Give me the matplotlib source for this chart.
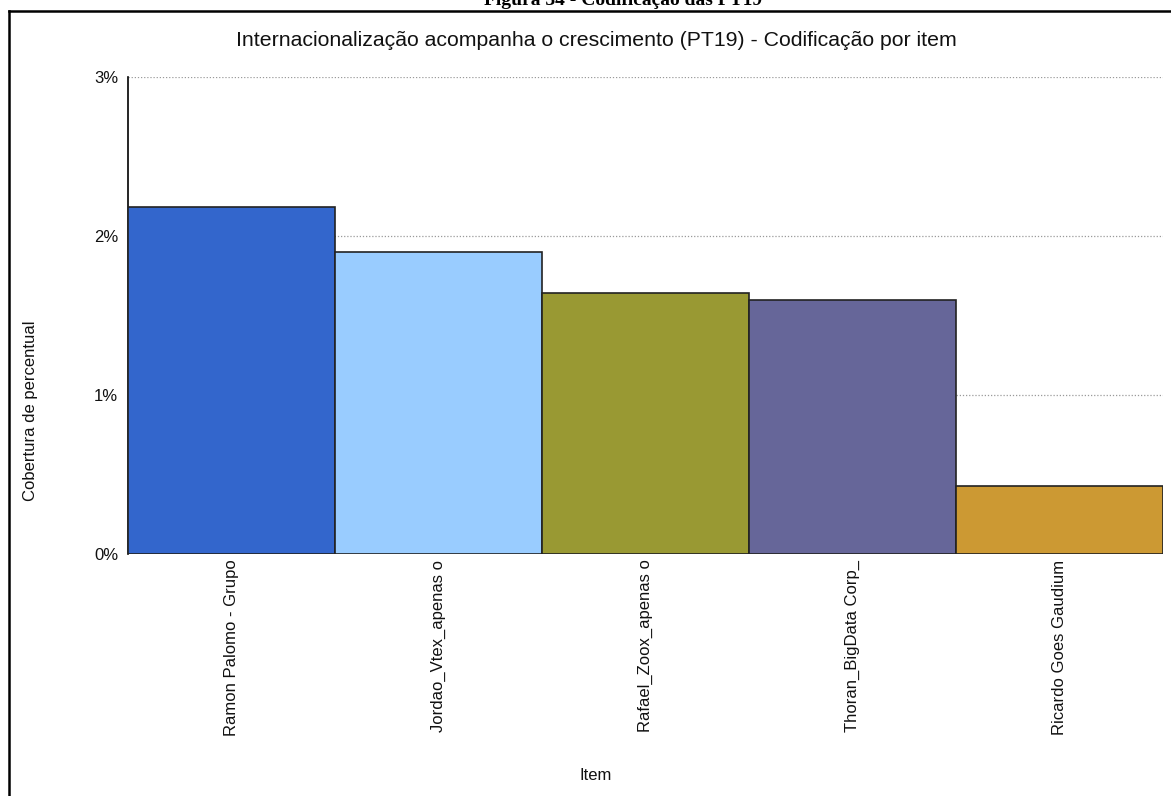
import matplotlib
matplotlib.use("Agg")
import matplotlib.pyplot as plt
from matplotlib.lines import Line2D
from matplotlib.ticker import FuncFormatter

plt.rcParams['font.family'] = ['Liberation Sans', 'DejaVu Sans']

# Data
items = ["Ramon Palomo - Grupo", "Jordao_Vtex_apenas o", "Rafael_Zoox_apenas o",
         "Thoran_BigData Corp_", "Ricardo Goes Gaudium"]
coverage = [2.18, 1.90, 1.64, 1.60, 0.43]
colors = ["#3366CC", "#99CCFF", "#999933", "#666699", "#CC9933"]
yticks = [0, 1, 2, 3]

W, H = 1171, 796
fig = plt.figure(figsize=(W / 100, H / 100), dpi=100)

# Document caption (partly cut off at the top edge)
fig.text(623 / W, 1 - 5 / H, "Figura 34 - Codificação das PT19",
         family=['Liberation Serif', 'DejaVu Serif'], fontweight='bold',
         fontsize=14, ha='center', va='baseline')

# Outer frame
fig.add_artist(Line2D([8.5 / W, 8.5 / W], [0, 1 - 11 / H], transform=fig.transFigure,
                      color='black', lw=1.8))
fig.add_artist(Line2D([8.5 / W, 1], [1 - 11 / H, 1 - 11 / H], transform=fig.transFigure,
                      color='black', lw=1.8))

ax = fig.add_axes([128 / W, 1 - 554 / H, (1163 - 128) / W, (554 - 77) / H])
x = list(range(len(items)))
ax.bar(x, coverage, width=1.0, color=colors, edgecolor='#222222', linewidth=1.2, zorder=3)
ax.set_xlim(-0.5, len(items) - 0.5)
ax.set_ylim(0, 3)
ax.set_yticks(yticks)
ax.yaxis.set_major_formatter(FuncFormatter(lambda v, p: f"{v:.0f}%"))
ax.yaxis.grid(True, linestyle=(0, (1, 1.5)), color='#9a9a9a', linewidth=0.9, zorder=0)
ax.set_axisbelow(True)
ax.set_xticks(x)
ax.set_xticklabels(items, rotation=90, fontsize=12, color='#111111')
ax.tick_params(axis='both', length=0, labelsize=12, labelcolor='#111111')
ax.tick_params(axis='x', pad=4)
ax.tick_params(axis='y', pad=7)
for s in ['top', 'right', 'bottom']:
    ax.spines[s].set_visible(False)
ax.spines['left'].set_color('black')
ax.spines['left'].set_linewidth(1.2)

fig.text(596 / W, 1 - 40 / H,
         "Internacionalização acompanha o crescimento (PT19) - Codificação por item",
         fontsize=15.3, ha='center', va='center', color='#111111')
fig.text(31 / W, 1 - 411 / H, "Cobertura de percentual", rotation=90,
         fontsize=12, ha='center', va='center', color='#111111')
fig.text(596 / W, 1 - 776 / H, "Item", fontsize=12, ha='center', va='center',
         color='#111111')

fig.savefig("out.png", dpi=100)
